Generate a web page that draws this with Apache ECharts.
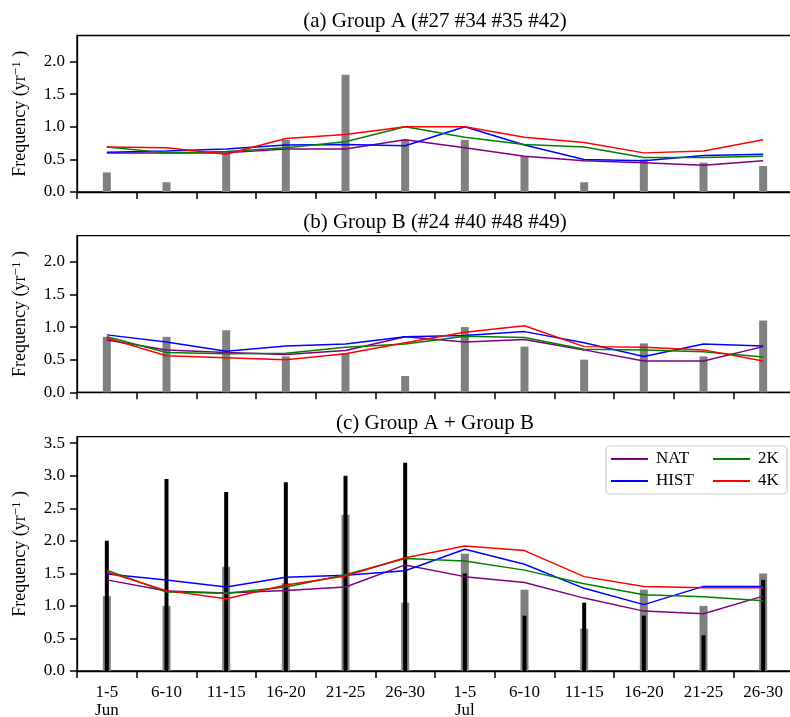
<!DOCTYPE html>
<html>
<head>
<meta charset="utf-8">
<script src="https://cdn.jsdelivr.net/npm/echarts@6/dist/echarts.min.js"></script>
<style>html,body{margin:0;padding:0;background:#fff;}#c{width:790px;height:717px;}</style>
</head>
<body>
<div id="c"></div>
<script>
// ---- data ----
var categories = ['1-5\nJun','6-10','11-15','16-20','21-25','26-30','1-5\nJul','6-10','11-15','16-20','21-25','26-30'];
var yTicksAB = [0, 0.5, 1.0, 1.5, 2.0];
var yTicksC = [0, 0.5, 1.0, 1.5, 2.0, 2.5, 3.0, 3.5];

// (a) Group A
var obsA  = [0.3, 0.15, 0.6, 0.8, 1.8, 0.8, 0.8, 0.55, 0.15, 0.5, 0.45, 0.4];
var natA  = [0.6, 0.6, 0.6, 0.66, 0.66, 0.8, 0.68, 0.55, 0.48, 0.45, 0.41, 0.48];
var histA = [0.61, 0.63, 0.66, 0.72, 0.73, 0.71, 1.0, 0.72, 0.5, 0.48, 0.56, 0.58];
var k2A   = [0.69, 0.6, 0.62, 0.68, 0.77, 1.0, 0.84, 0.73, 0.69, 0.53, 0.53, 0.55];
var k4A   = [0.69, 0.68, 0.58, 0.82, 0.88, 1.0, 1.0, 0.84, 0.76, 0.6, 0.63, 0.8];

// (b) Group B
var obsB  = [0.85, 0.85, 0.95, 0.55, 0.6, 0.25, 1.0, 0.7, 0.5, 0.75, 0.55, 1.1];
var natB  = [0.8, 0.65, 0.61, 0.58, 0.64, 0.85, 0.77, 0.81, 0.65, 0.48, 0.48, 0.7];
var histB = [0.88, 0.77, 0.63, 0.71, 0.74, 0.85, 0.87, 0.93, 0.76, 0.55, 0.74, 0.71];
var k2B   = [0.85, 0.61, 0.59, 0.6, 0.69, 0.74, 0.86, 0.84, 0.66, 0.65, 0.62, 0.54];
var k4B   = [0.83, 0.56, 0.53, 0.5, 0.59, 0.76, 0.92, 1.02, 0.7, 0.69, 0.65, 0.48];

// (c) Group A + Group B
var obsC   = [1.15, 1.0, 1.6, 1.35, 2.4, 1.05, 1.8, 1.25, 0.65, 1.25, 1.0, 1.5];
var blackC = [2.0, 2.95, 2.75, 2.9, 3.0, 3.2, 1.5, 0.85, 1.05, 0.85, 0.55, 1.4];
var natC   = [1.4, 1.23, 1.2, 1.235, 1.29, 1.63, 1.45, 1.36, 1.12, 0.92, 0.88, 1.15];
var histC  = [1.49, 1.4, 1.29, 1.44, 1.47, 1.54, 1.87, 1.64, 1.27, 1.02, 1.3, 1.3];
var k2C    = [1.55, 1.215, 1.195, 1.29, 1.48, 1.73, 1.69, 1.55, 1.34, 1.17, 1.14, 1.08];
var k4C    = [1.52, 1.235, 1.11, 1.32, 1.46, 1.74, 1.92, 1.85, 1.45, 1.3, 1.28, 1.28];

var titles = ['(a) Group A (#27 #34 #35 #42)', '(b) Group B (#24 #40 #48 #49)', '(c) Group A + Group B'];
var seriesNames = ['NAT', 'HIST', '2K', '4K'];
var colors = {NAT: '#800080', HIST: '#0000ff', '2K': '#008000', '4K': '#ff0000'};

// ---- chart ----
var FONT = '"Liberation Serif", "Times New Roman", serif';
var chart = echarts.init(document.getElementById('c'), null, {renderer: 'canvas'});

var grids = [
  {left: 77, width: 716, top: 35.5, height: 156.5},
  {left: 77, width: 716, top: 235.7, height: 156.6},
  {left: 77, width: 716, top: 436.7, height: 234.3}
].map(function (g) {
  return Object.assign({show: true, borderColor: '#000', borderWidth: 1.3, backgroundColor: 'transparent', containLabel: false, outerBoundsMode: 'none'}, g);
});

function xAxis(gi, showLabels, hidden) {
  return {
    type: 'category', gridIndex: gi, data: categories, boundaryGap: true, show: !hidden,
    axisLine: {show: true, lineStyle: {color: '#000', width: 1.3}},
    axisTick: {show: true, length: 7, lineStyle: {color: '#000', width: 1.5}},
    axisLabel: {show: showLabels, color: '#000', fontFamily: FONT, fontSize: 17, lineHeight: 17.5, margin: 13, interval: 0},
    splitLine: {show: false}
  };
}
function yAxis(gi, max, ticks) {
  return {
    type: 'value', gridIndex: gi, min: 0, max: max,
    name: '{n|Frequency (yr}{s|\u22121}{n| )}', nameLocation: 'middle', nameGap: 47, nameRotate: 90,
    nameTextStyle: {color: '#000', fontFamily: FONT, fontSize: 18,
      rich: {n: {fontFamily: FONT, fontSize: 18, color: '#000', lineHeight: 20},
             s: {fontFamily: FONT, fontSize: 13, color: '#000', verticalAlign: 'top', lineHeight: 12, padding: [0, 0, 8, 0]}}},
    axisLine: {show: true, lineStyle: {color: '#000', width: 1.3}},
    axisTick: {show: true, length: 7, lineStyle: {color: '#000', width: 1.5}, customValues: ticks},
    axisLabel: {color: '#000', fontFamily: FONT, fontSize: 17, margin: 12, customValues: ticks,
      formatter: function (v) { return v.toFixed(1); }},
    splitLine: {show: false}
  };
}

function lineSeries(name, data, xi, yi) {
  return {type: 'line', name: name, data: data, xAxisIndex: xi, yAxisIndex: yi, symbol: 'none',
    lineStyle: {color: colors[name], width: 1.5}, itemStyle: {color: colors[name]}, z: 5, animation: false};
}
function barSeries(data, xi, yi, color, width) {
  return {type: 'bar', data: data, xAxisIndex: xi, yAxisIndex: yi, barWidth: width,
    itemStyle: {color: color}, z: 2, animation: false, silent: true};
}

var series = [];
series.push(barSeries(obsA, 0, 0, '#808080', 8));
series.push(barSeries(obsB, 1, 1, '#808080', 8));
series.push(barSeries(obsC, 2, 2, '#808080', 8));
series.push(barSeries(blackC, 3, 2, '#000000', 4));
var lineSets = [[natA, histA, k2A, k4A], [natB, histB, k2B, k4B], [natC, histC, k2C, k4C]];
lineSets.forEach(function (set, p) {
  set.forEach(function (d, i) { series.push(lineSeries(seriesNames[i], d, p, p)); });
});

var legendText = {color: '#000', fontFamily: FONT, fontSize: 17, lineHeight: 22, padding: [0, 0, 0, 3]};

var option = {
  animation: false,
  backgroundColor: '#fff',
  grid: grids,
  xAxis: [xAxis(0, false), xAxis(1, false), xAxis(2, true), xAxis(2, false, true)],
  yAxis: [yAxis(0, 2.4, yTicksAB), yAxis(1, 2.4, yTicksAB), yAxis(2, 3.6, yTicksC)],
  legend: [
    {data: ['NAT', 'HIST'], orient: 'vertical', left: 611, top: 448, padding: 0, itemGap: 0,
     itemWidth: 37, itemHeight: 2, icon: 'rect', textStyle: legendText, selectedMode: false},
    {data: ['2K', '4K'], orient: 'vertical', left: 713, top: 448, padding: 0, itemGap: 0,
     itemWidth: 37, itemHeight: 2, icon: 'rect', textStyle: legendText, selectedMode: false}
  ],
  graphic: [
    {type: 'rect', shape: {x: 606, y: 446, width: 181, height: 48, r: 4}, z: 3,
     style: {fill: 'rgba(255,255,255,0.8)', stroke: '#cccccc', lineWidth: 1.2}},
    {type: 'text', x: 435, y: 21, z: 10, style: {text: titles[0], fontFamily: FONT, fontSize: 21, fill: '#000', align: 'center', verticalAlign: 'middle'}},
    {type: 'text', x: 435, y: 222, z: 10, style: {text: titles[1], fontFamily: FONT, fontSize: 21, fill: '#000', align: 'center', verticalAlign: 'middle'}},
    {type: 'text', x: 435, y: 423, z: 10, style: {text: titles[2], fontFamily: FONT, fontSize: 21, fill: '#000', align: 'center', verticalAlign: 'middle'}}
  ],
  series: series
};
chart.setOption(option);
</script>
</body>
</html>
